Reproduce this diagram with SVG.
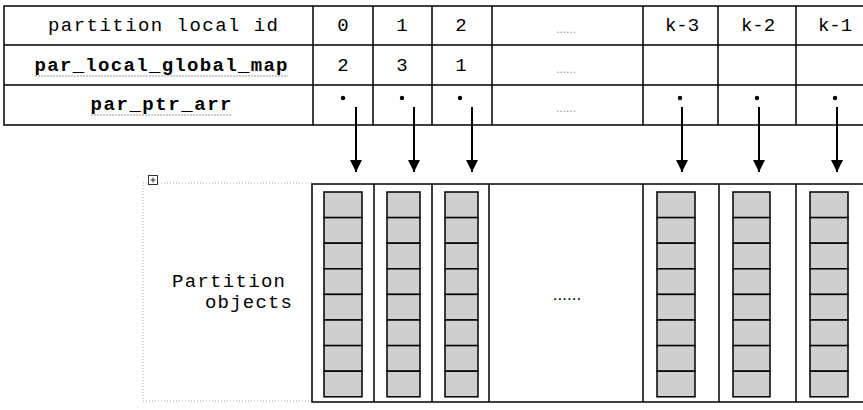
<svg xmlns="http://www.w3.org/2000/svg" width="863" height="410" viewBox="0 0 863 410">
<style>
.line{stroke:#000;stroke-width:1.5;fill:none}
.t{font-family:"Liberation Mono","Courier New",monospace;font-size:19px;fill:#000}
.b{font-weight:bold}
.ell{font-family:"Liberation Sans",Arial,sans-serif;font-size:12px;fill:#999}
.ell2{font-family:"Liberation Sans",Arial,sans-serif;font-size:17px;fill:#000}
.cell{fill:#cfcfcf;stroke:#000;stroke-width:1.5}
.wave{stroke:#999;stroke-width:1;stroke-dasharray:2 1;fill:none}
.dotbox{stroke:#aaa;stroke-width:1;stroke-dasharray:1 2;fill:none}
.arrow{stroke:#000;stroke-width:2;fill:none}
</style>
<defs>
<marker id="ah" markerUnits="userSpaceOnUse" markerWidth="14" markerHeight="14" viewBox="0 0 14 14" refX="13" refY="7" orient="auto">
<path d="M1,1 L13,7 L1,13 Z" fill="#000"/>
</marker>
</defs>
<rect width="863" height="410" fill="#fff"/>

<g id="table">
<rect class="line" x="4" y="6" width="870" height="119"/>
<path class="line" d="M4,45H874M4,85H874M313,6V125M373,6V125M432,6V125M492,6V125M643,6V125M718,6V125M796,6V125"/>
<text class="t" x="163" y="31" text-anchor="middle" textLength="230">partition local id</text>
<text class="t b" x="161" y="71" text-anchor="middle" textLength="253">par_local_global_map</text>
<path class="wave" d="M35,76H288"/>
<text class="t b" x="161" y="110" text-anchor="middle" textLength="141">par_ptr_arr</text>
<path class="wave" d="M91,115H232"/>
<text class="t" x="343" y="31" text-anchor="middle">0</text>
<text class="t" x="402" y="31" text-anchor="middle">1</text>
<text class="t" x="461" y="31" text-anchor="middle">2</text>
<text class="t" x="682" y="31" text-anchor="middle">k-3</text>
<text class="t" x="758" y="31" text-anchor="middle">k-2</text>
<text class="t" x="835" y="31" text-anchor="middle">k-1</text>
<text class="t" x="343" y="71" text-anchor="middle">2</text>
<text class="t" x="402" y="71" text-anchor="middle">3</text>
<text class="t" x="461" y="71" text-anchor="middle">1</text>
<text class="ell" x="566" y="33" text-anchor="middle">......</text>
<text class="ell" x="566" y="73" text-anchor="middle">......</text>
<text class="ell" x="566" y="112" text-anchor="middle">......</text>
<circle cx="343" cy="98" r="2.2"/>
<circle cx="402" cy="98" r="2.2"/>
<circle cx="460" cy="98" r="2.2"/>
<circle cx="680" cy="98" r="2.2"/>
<circle cx="757" cy="98" r="2.2"/>
<circle cx="835" cy="98" r="2.2"/>
</g>

<g id="connectors">
<path class="arrow" d="M356,107V172" marker-end="url(#ah)"/>
<path class="arrow" d="M414,107V172" marker-end="url(#ah)"/>
<path class="arrow" d="M472,107V172" marker-end="url(#ah)"/>
<path class="arrow" d="M682,107V172" marker-end="url(#ah)"/>
<path class="arrow" d="M759,107V172" marker-end="url(#ah)"/>
<path class="arrow" d="M837,107V172" marker-end="url(#ah)"/>
</g>

<g id="container">
<path class="dotbox" d="M312,183H143V401H312"/>
<rect x="148.5" y="175.5" width="9" height="9" fill="#fff" stroke="#333" stroke-width="1"/>
<path d="M153,177.5V182.5M150.5,180H155.5" stroke="#333" stroke-width="1"/>
<text class="t" x="172" y="287" textLength="113">Partition</text>
<text class="t" x="205" y="308" textLength="87">objects</text>
</g>

<g id="partition-objects">
<rect class="line" x="312" y="184" width="560" height="218"/>
<path class="line" d="M374,184V402M432,184V402M489,184V402M643,184V402M719,184V402M796,184V402"/>
<text class="ell2" x="567" y="300" text-anchor="middle">......</text>
</g>

<g id="obj-0"><rect class="cell" x="324" y="192" width="38" height="25.6"/><rect class="cell" x="324" y="217.6" width="38" height="25.6"/><rect class="cell" x="324" y="243.2" width="38" height="25.6"/><rect class="cell" x="324" y="268.8" width="38" height="25.6"/><rect class="cell" x="324" y="294.4" width="38" height="25.6"/><rect class="cell" x="324" y="320" width="38" height="25.6"/><rect class="cell" x="324" y="345.6" width="38" height="25.6"/><rect class="cell" x="324" y="371.2" width="38" height="25.6"/></g>
<g id="obj-1"><rect class="cell" x="387" y="192" width="33" height="25.6"/><rect class="cell" x="387" y="217.6" width="33" height="25.6"/><rect class="cell" x="387" y="243.2" width="33" height="25.6"/><rect class="cell" x="387" y="268.8" width="33" height="25.6"/><rect class="cell" x="387" y="294.4" width="33" height="25.6"/><rect class="cell" x="387" y="320" width="33" height="25.6"/><rect class="cell" x="387" y="345.6" width="33" height="25.6"/><rect class="cell" x="387" y="371.2" width="33" height="25.6"/></g>
<g id="obj-2"><rect class="cell" x="445" y="192" width="33" height="25.6"/><rect class="cell" x="445" y="217.6" width="33" height="25.6"/><rect class="cell" x="445" y="243.2" width="33" height="25.6"/><rect class="cell" x="445" y="268.8" width="33" height="25.6"/><rect class="cell" x="445" y="294.4" width="33" height="25.6"/><rect class="cell" x="445" y="320" width="33" height="25.6"/><rect class="cell" x="445" y="345.6" width="33" height="25.6"/><rect class="cell" x="445" y="371.2" width="33" height="25.6"/></g>
<g id="obj-k3"><rect class="cell" x="657" y="192" width="38" height="25.6"/><rect class="cell" x="657" y="217.6" width="38" height="25.6"/><rect class="cell" x="657" y="243.2" width="38" height="25.6"/><rect class="cell" x="657" y="268.8" width="38" height="25.6"/><rect class="cell" x="657" y="294.4" width="38" height="25.6"/><rect class="cell" x="657" y="320" width="38" height="25.6"/><rect class="cell" x="657" y="345.6" width="38" height="25.6"/><rect class="cell" x="657" y="371.2" width="38" height="25.6"/></g>
<g id="obj-k2"><rect class="cell" x="733" y="192" width="37" height="25.6"/><rect class="cell" x="733" y="217.6" width="37" height="25.6"/><rect class="cell" x="733" y="243.2" width="37" height="25.6"/><rect class="cell" x="733" y="268.8" width="37" height="25.6"/><rect class="cell" x="733" y="294.4" width="37" height="25.6"/><rect class="cell" x="733" y="320" width="37" height="25.6"/><rect class="cell" x="733" y="345.6" width="37" height="25.6"/><rect class="cell" x="733" y="371.2" width="37" height="25.6"/></g>
<g id="obj-k1"><rect class="cell" x="810" y="192" width="38" height="25.6"/><rect class="cell" x="810" y="217.6" width="38" height="25.6"/><rect class="cell" x="810" y="243.2" width="38" height="25.6"/><rect class="cell" x="810" y="268.8" width="38" height="25.6"/><rect class="cell" x="810" y="294.4" width="38" height="25.6"/><rect class="cell" x="810" y="320" width="38" height="25.6"/><rect class="cell" x="810" y="345.6" width="38" height="25.6"/><rect class="cell" x="810" y="371.2" width="38" height="25.6"/></g>
</svg>
